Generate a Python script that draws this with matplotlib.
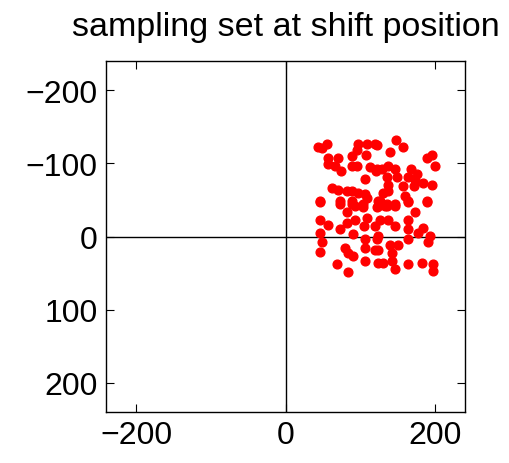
import numpy as np
import matplotlib
matplotlib.use('Agg')
from matplotlib import pyplot as plt

plt.rcParams['font.family'] = ['Liberation Sans', 'DejaVu Sans']

# sample positions (x, y) after the shift
xs = [43, 49, 55, 97, 109, 120, 96, 57, 70, 89, 108, 57, 66, 74, 89, 96, 113, 121, 106,
      62, 70, 82, 89, 97, 106, 109, 46, 73, 89, 104, 124, 93,
      122, 148, 157, 140, 189, 196, 200, 122, 129, 137, 146, 168, 136, 149, 164, 176, 173,
      184, 196, 137, 157, 171, 137, 130, 160, 126, 136, 146, 164, 189, 133,
      46, 73, 89, 104, 122, 82, 46, 57, 73, 93, 109, 105, 120, 46, 82, 90, 48, 106, 122,
      46, 79, 83, 90, 106, 120, 106, 69, 83, 124,
      124, 136, 146, 164, 173, 189, 126, 137, 146, 163, 164, 177, 184, 193, 124, 163, 191,
      124, 140, 150, 142, 130, 142, 146, 163, 183, 197, 197]
ys = [-123, -121, -127, -126, -126, -126, -118, -108, -108, -110, -111, -99, -97, -90, -97, -97, -95, -90, -79,
      -67, -64, -63, -62, -60, -58, -53, -49, -49, -48, -44, -49, -42,
      -125, -132, -122, -116, -107, -112, -96, -92, -93, -96, -93, -93, -81, -81, -82, -85, -77,
      -73, -71, -71, -69, -69, -63, -59, -56, -49, -45, -45, -49, -49, -42,
      -47, -44, -44, -40, -40, -33, -23, -16, -10, -23, -26, -15, -15, -5, -19, -3, 8, 4, 4,
      21, 15, 22, 26, 16, 18, 33, 38, 48, 36,
      -42, -42, -42, -47, -33, -47, -23, -23, -14, -22, -10, -5, -12, -1, -1, 4, 7,
      18, 12, 12, 22, 36, 33, 45, 38, 36, 37, 47]

fig = plt.figure(figsize=(5.1, 4.64), dpi=100)
ax = fig.add_axes([0.208, 0.110, 0.704, 0.756])

ax.axhline(0, color='k', lw=1.0, zorder=1)
ax.axvline(0, color='k', lw=1.0, zorder=1)
ax.plot(xs, ys, 'o', color='red', ms=6.3, mec='red', zorder=3)

ax.set_xlim(-240, 240)
ax.set_ylim(240, -240)
ax.set_xticks([-200, 0, 200])
ax.set_yticks([-200, -100, 0, 100, 200])
ax.tick_params(direction='in', top=True, right=True, labelsize=23, length=6, width=0.8, pad=6)
for s in ax.spines.values():
    s.set_linewidth(1.0)
ax.set_title('sampling set at shift position', fontsize=24.5, pad=19)

fig.savefig('out.png', dpi=100)
